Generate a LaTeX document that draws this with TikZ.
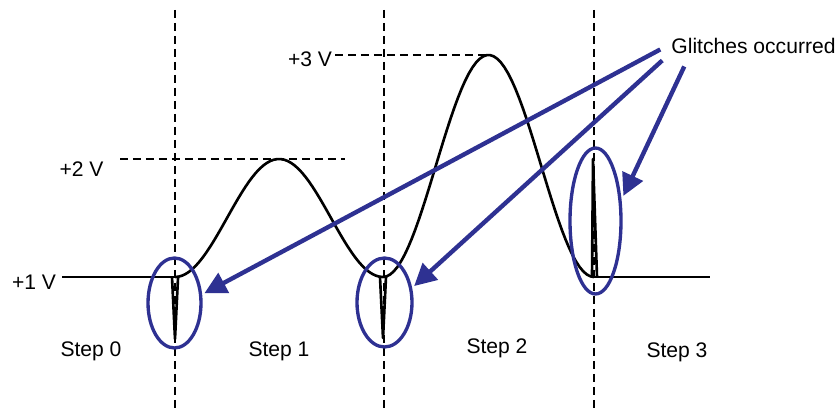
\documentclass[tikz,border=0pt]{standalone}
\usepackage{fontspec}
\setmainfont{Liberation Sans}
\usepackage{tikz}
\usetikzlibrary{
arrows.meta,
positioning,
shapes.geometric
}
\definecolor{glitchblue}{HTML}{2E3192}

\begin{document}
\begin{tikzpicture}[
  x=0.02cm, y=-0.02cm,
  font=\fontsize{12}{14}\selectfont,
  guide/.style={dash pattern=on 0.16cm off 0.1cm, line width=0.9pt},
  wave/.style={line width=1.5pt, line join=round},
  ring/.style={draw=glitchblue, line width=1.9pt, ellipse, inner sep=0pt, outer sep=0.08cm},
  pointer/.style={-{Triangle[length=0.44cm, width=0.44cm]}, glitchblue, line width=2.5pt},
  level/.style={anchor=base}
]

\useasboundingbox (0,0) rectangle (839,408);

% Step boundaries
\foreach \x in {175, 384, 594} {
  \draw[guide] (\x, 10) -- (\x, 408);
}

% Voltage levels
\node[level] (v1) at (34, 290) {+1 V};
\node[level] (v2) at (81.5, 177) {+2 V};
\node[level] (v3) at (310, 67) {+3 V};
\draw[guide] (120, 159) -- (345, 159);
\draw[guide] (335, 55) -- (487, 55);

% Waveform
\draw[wave] (62, 277) -- (175, 277);
\draw[wave, domain=175:383, samples=60] plot (\x, {277 - 59*(1 - cos((\x-175)*1.7308))});
\draw[wave, domain=383:594, samples=60] plot (\x, {277 - 111*(1 - cos((\x-383)*1.7062))});
\draw[wave] (594, 277) -- (710, 277);

% Glitch spikes
\draw[wave] (172, 277) -- (175, 339) -- (178, 278);
\draw[wave] (380, 277) -- (383, 338) -- (386, 277);
\draw[wave] (592, 277) -- (593, 159) -- (597, 277);

% Step labels
\foreach \i/\x/\y in {0/91/357, 1/279/357, 2/497/354, 3/677/358} {
  \node[level] (s\i) at (\x, \y) {Step \i};
}

% Glitch marks
\node[ring, minimum width=1.06cm, minimum height=1.8cm] (g0) at (174.5, 303) {};
\node[ring, minimum width=1.1cm, minimum height=1.78cm] (g1) at (384.5, 302.5) {};
\node[ring, minimum width=1.02cm, minimum height=2.92cm] (g3) at (595.5, 221) {};

% Pointers
\node[level] (note) at (753.5, 54) {Glitches occurred};
\draw[pointer] ([shift={(-5,3)}]note.west) -- (g0.18);
\draw[pointer] ([shift={(-3,14)}]note.west) -- (g1.29);
\draw[pointer] ([shift={(19,20)}]note.west) -- (g3.42);

\end{tikzpicture}
\end{document}
